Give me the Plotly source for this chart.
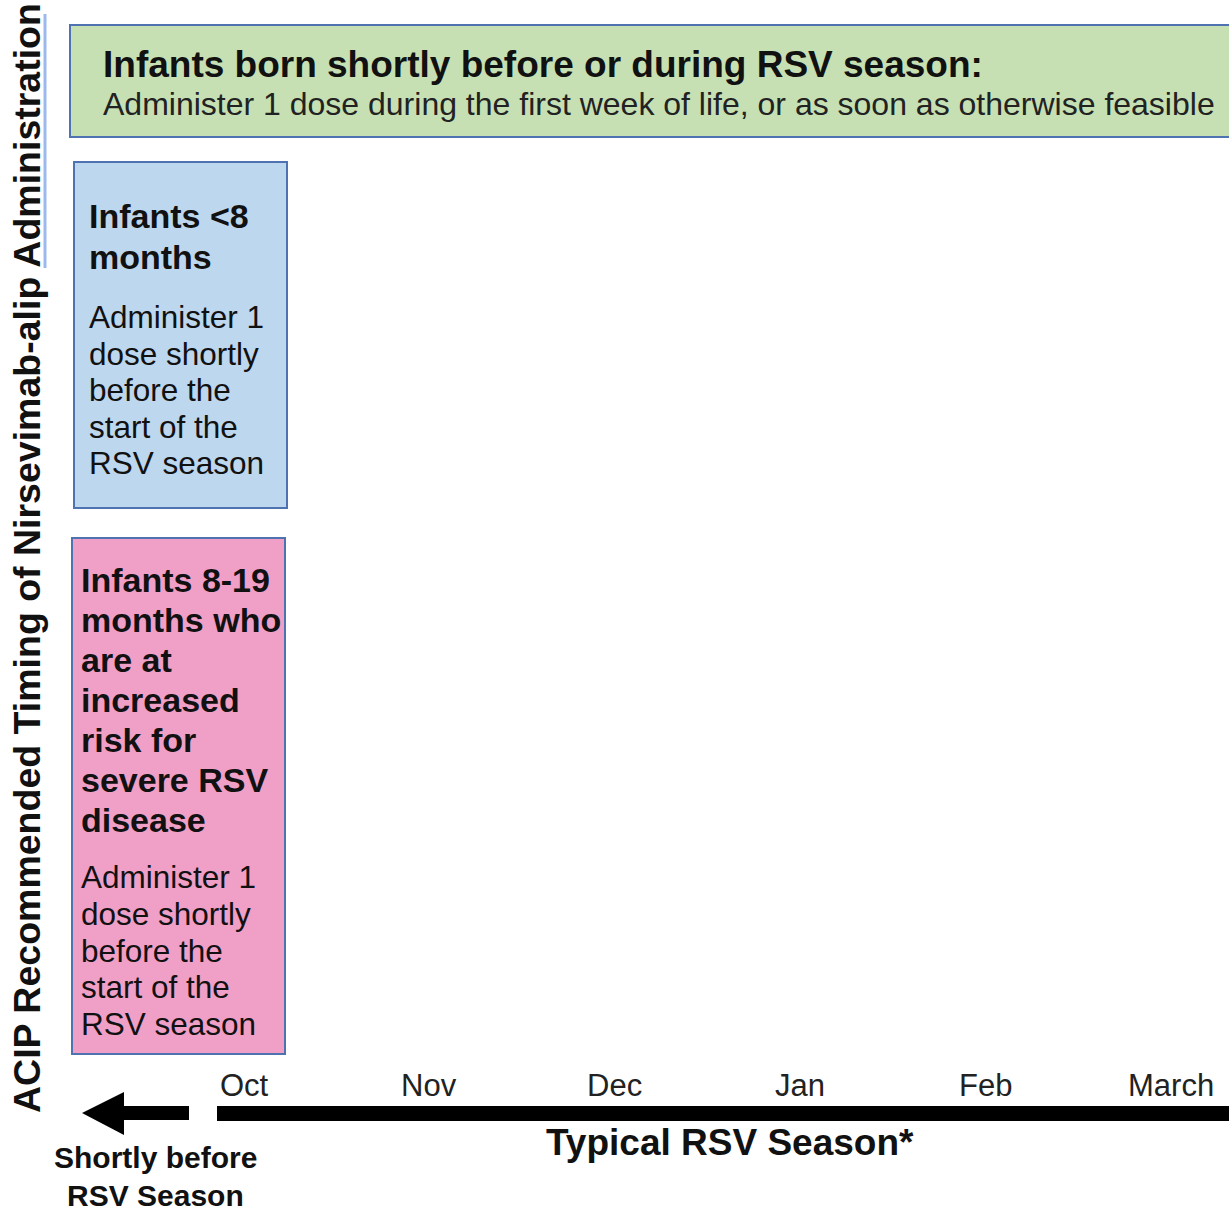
import plotly.graph_objects as go

# ---- content ----
months = ["Oct", "Nov", "Dec", "Jan", "Feb", "March"]
y_title = "ACIP Recommended Timing of Nirsevimab-alip Administration"
green_head = "Infants born shortly before or during RSV season:"
green_body = "Administer 1 dose during the first week of life, or as soon as otherwise feasible"
blue_head = ["Infants <8", "months"]
blue_body = ["Administer 1", "dose shortly", "before the", "start of the", "RSV season"]
pink_head = ["Infants 8-19", "months who", "are at", "increased", "risk for", "severe RSV", "disease"]
pink_body = ["Administer 1", "dose shortly", "before the", "start of the", "RSV season"]
season_label = "Typical RSV Season*"
before_label = ["Shortly before", "RSV Season"]

W, H = 1229, 1215
FONT = "Arial, 'Liberation Sans', sans-serif"
BORDER = "#4f72b0"

fig = go.Figure()
fig.add_trace(go.Scatter(x=[0], y=[0], mode="markers", marker=dict(opacity=0), hoverinfo="skip", showlegend=False))
fig.add_trace(go.Scatter(x=[0], y=[0], xaxis="x2", mode="markers", marker=dict(opacity=0), hoverinfo="skip", showlegend=False))

shapes = []
shapes.append(dict(type="rect", x0=70, x1=1260, y0=25, y1=137, fillcolor="#c6e0b4", line=dict(color=BORDER, width=2), layer="below"))
shapes.append(dict(type="rect", x0=74, x1=287, y0=162, y1=508, fillcolor="#bdd7ee", line=dict(color=BORDER, width=2), layer="below"))
shapes.append(dict(type="rect", x0=72, x1=285, y0=538, y1=1054, fillcolor="#f09fc7", line=dict(color=BORDER, width=2), layer="below"))
shapes.append(dict(type="path", path="M 124,1092 L 82,1113 L 124,1135 Z", fillcolor="black", line=dict(width=0)))
shapes.append(dict(type="rect", x0=120, x1=189, y0=1106, y1=1120, fillcolor="black", line=dict(width=0)))
shapes.append(dict(type="rect", x0=217, x1=1260, y0=1106, y1=1121, fillcolor="black", line=dict(width=0)))
shapes.append(dict(type="line", x0=45, x1=45, y0=14, y1=268, line=dict(color="#9db8ec", width=3)))

ann = []
ann.append(dict(x=27, y=558, text=f"<b>{y_title}</b>", textangle=-90, showarrow=False,
                font=dict(family=FONT, size=37.5, color="#111"), xanchor="center", yanchor="middle"))
ann.append(dict(x=101, y=64, text=f"<b>{green_head}</b>", showarrow=False, xanchor="left", yanchor="middle",
                font=dict(family=FONT, size=37, color="#111")))
ann.append(dict(x=101, y=104, text=green_body, showarrow=False, xanchor="left", yanchor="middle",
                font=dict(family=FONT, size=32, color="#222")))

def block(lines, x, y_first, step, size, bold):
    for i, t in enumerate(lines):
        ann.append(dict(x=x, y=y_first + i * step, text=f"<b>{t}</b>" if bold else t, showarrow=False,
                        xanchor="left", yanchor="middle", font=dict(family=FONT, size=size, color="#111")))

block(blue_head, 87, 216, 40.5, 34, True)
block(blue_body, 87, 317, 36.5, 31.5, False)
block(pink_head, 79, 580, 40, 34, True)
block(pink_body, 79, 877, 36.8, 31.5, False)

for i, m in enumerate(months):
    ann.append(dict(x=i, xref="x2", y=1085, yref="y", text=m, showarrow=False, xanchor="center", yanchor="middle",
                    font=dict(family=FONT, size=31, color="#222")))

ann.append(dict(x=730, y=1142, text=f"<b>{season_label}</b>", showarrow=False, xanchor="center", yanchor="middle",
                font=dict(family=FONT, size=37, color="#111")))
for i, t in enumerate(before_label):
    ann.append(dict(x=155, y=1157 + i * 38, text=f"<b>{t}</b>", showarrow=False, xanchor="center", yanchor="middle",
                    font=dict(family=FONT, size=30, color="#111")))

# month axis scale: Oct centred at px 244, March at px 1171
p0, p5 = 244, 1171
scale = (p5 - p0) / (len(months) - 1)
r0 = -p0 / scale
r1 = r0 + W / scale

fig.update_layout(
    width=W, height=H,
    margin=dict(l=0, r=0, t=0, b=0),
    paper_bgcolor="white", plot_bgcolor="white",
    xaxis=dict(range=[0, W], visible=False, fixedrange=True),
    xaxis2=dict(range=[r0, r1], overlaying="x", visible=False, fixedrange=True),
    yaxis=dict(range=[H, 0], visible=False, fixedrange=True),
    shapes=shapes, annotations=ann, showlegend=False,
)
fig.write_html("out.html", config={"displayModeBar": False},
               post_script="document.body.style.margin='0';document.body.style.overflow='hidden';")
